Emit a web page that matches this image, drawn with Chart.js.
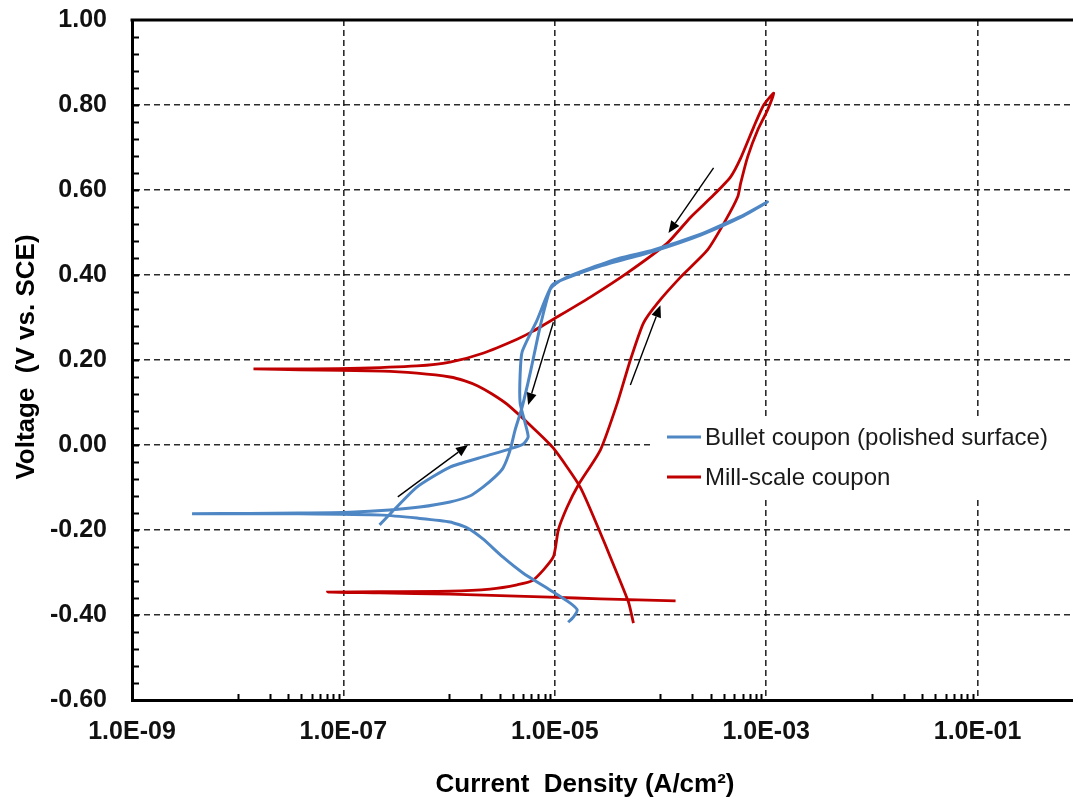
<!DOCTYPE html>
<html>
<head>
<meta charset="utf-8">
<script src="https://cdn.jsdelivr.net/npm/chart.js@4/dist/chart.umd.min.js"></script>
<style>
  html, body { margin: 0; padding: 0; background: #fff; overflow: hidden; }
  canvas { display: block; }
</style>
</head>
<body>
<canvas id="chart" width="1073" height="798"></canvas>
<script>
// Cyclic polarization scans: current density (A/cm²) against potential (V vs. SCE), in scan order.
const bulletJ = [1.34e-5, 1.50e-5, 1.63e-5, 1.40e-5, 9.0e-6, 5.0e-6, 3.24e-6, 2.09e-6, 1.48e-6, 1.02e-6,
  4.96e-7, 2.35e-7, 3.84e-8, 1.29e-8, 3.7e-9, 1.29e-8, 3.84e-8, 1.15e-7, 2.74e-7, 5.28e-7,
  1.02e-6, 1.57e-6, 2.09e-6, 2.72e-6, 3.24e-6, 3.78e-6, 4.21e-6, 4.91e-6, 5.85e-6, 7.26e-6,
  9.0e-6, 1.01e-5, 1.31e-5, 2.17e-5, 4.17e-5, 8.59e-5, 2.40e-4, 4.14e-4, 6.12e-4, 1.03e-3,
  6.1e-4, 2.4e-4, 8.6e-5, 2.7e-5, 1.31e-5, 9.44e-6, 6.8e-6, 4.91e-6, 4.7e-6, 4.7e-6,
  5.24e-6, 5.6e-6, 5.0e-6, 3.78e-6, 2.09e-6, 1.02e-6, 4.96e-7, 3.2e-7, 2.2e-7];
const bulletE = [-0.417, -0.405, -0.388, -0.372, -0.341, -0.301, -0.264, -0.221, -0.195, -0.181,
  -0.172, -0.165, -0.162, -0.162, -0.162, -0.161, -0.160, -0.158, -0.153, -0.146,
  -0.134, -0.120, -0.099, -0.075, -0.054, -0.012, 0.035, 0.089, 0.169, 0.278,
  0.365, 0.379, 0.395, 0.416, 0.440, 0.459, 0.496, 0.522, 0.541, 0.572,
  0.539, 0.494, 0.456, 0.421, 0.393, 0.376, 0.294, 0.219, 0.165, 0.099,
  0.052, 0.019, 0.002, -0.009, -0.028, -0.052, -0.099, -0.146, -0.188];

const millJ = [1.39e-4, 2.70e-5, 9.0e-6, 1.02e-6, 2.2e-7, 7.08e-8, 2.2e-7, 1.02e-6, 2.44e-6, 4.40e-6,
  6.24e-6, 9.66e-6, 1.08e-5, 1.31e-5, 1.67e-5, 2.70e-5, 3.91e-5, 5.19e-5, 6.90e-5, 9.38e-5,
  1.55e-4, 2.79e-4, 4.14e-4, 5.38e-4, 5.74e-4, 6.68e-4, 8.32e-4, 1.03e-3, 1.18e-3, 9.48e-4,
  7.62e-4, 5.74e-4, 4.61e-4, 3.18e-4, 1.93e-4, 1.16e-4, 4.86e-5, 2.17e-5, 1.05e-5, 6.24e-6,
  4.40e-6, 2.09e-6, 1.02e-6, 4.96e-7, 1.15e-7, 3.84e-8, 1.41e-8, 3.84e-8, 2.35e-7, 4.96e-7,
  1.02e-6, 1.41e-6, 1.87e-6, 2.55e-6, 3.53e-6, 6.24e-6, 9.66e-6, 1.74e-5, 2.70e-5, 3.36e-5,
  4.97e-5, 5.55e-5];
const millE = [-0.367, -0.362, -0.358, -0.351, -0.348, -0.346, -0.345, -0.344, -0.339, -0.329,
  -0.318, -0.264, -0.200, -0.146, -0.094, -0.012, 0.099, 0.200, 0.287, 0.334,
  0.395, 0.459, 0.529, 0.584, 0.616, 0.678, 0.741, 0.788, 0.828, 0.800,
  0.748, 0.675, 0.631, 0.588, 0.536, 0.475, 0.405, 0.348, 0.301, 0.268,
  0.249, 0.216, 0.195, 0.186, 0.180, 0.179, 0.179, 0.177, 0.174, 0.169,
  0.160, 0.151, 0.139, 0.120, 0.096, 0.040, -0.007, -0.099, -0.207, -0.264,
  -0.369, -0.419];

const seriesLabels = ['Bullet coupon (polished surface)', 'Mill-scale coupon'];
const seriesColors = ['#4f87c5', '#c00000'];

// Axis ticks
const xTicks = [1e-9, 1e-7, 1e-5, 1e-3, 1e-1];
const xTickLabels = ['1.0E-09', '1.0E-07', '1.0E-05', '1.0E-03', '1.0E-01'];
const yTicks = [-0.6, -0.4, -0.2, 0, 0.2, 0.4, 0.6, 0.8, 1.0];
const yTickLabels = ['-0.60', '-0.40', '-0.20', '0.00', '0.20', '0.40', '0.60', '0.80', '1.00'];

// Scan-direction arrows (tail -> head)
const arrowFromJ = [3.27e-7, 9.7e-6, 5.19e-5, 3.18e-4];
const arrowFromE = [-0.122, 0.289, 0.141, 0.652];
const arrowToJ = [1.51e-6, 5.6e-6, 1.0e-4, 1.19e-4];
const arrowToE = [0.0, 0.094, 0.329, 0.499];

const FONT = "'Liberation Sans', Arial, Helvetica, sans-serif";

// Minor tick marks: tenths of each two-decade major step, 0.04 V on the potential axis
const xMinor = [];
[1e-9, 1e-7, 1e-5, 1e-3, 1e-1].forEach(b => { for (let k = 1; k <= 9; k++) xMinor.push(b * 10 * k); });
const yMinor = [];
for (let i = 0; i <= 40; i++) yMinor.push(-0.6 + i * 0.04);

const toPoints = (xs, ys) => xs.map((v, i) => ({ x: v, y: ys[i] }));

const framePlugin = {
  id: 'frame',
  afterDatasetsDraw(chart) {
    const { ctx, scales: { x, y } } = chart;
    ctx.save();
    ctx.strokeStyle = '#000';
    ctx.fillStyle = '#000';
    ctx.lineWidth = 1.4;
    for (let i = 0; i < arrowFromJ.length; i++) {
      const x1 = x.getPixelForValue(arrowFromJ[i]), y1 = y.getPixelForValue(arrowFromE[i]);
      const x2 = x.getPixelForValue(arrowToJ[i]), y2 = y.getPixelForValue(arrowToE[i]);
      const ang = Math.atan2(y2 - y1, x2 - x1);
      const len = 12, half = 5;
      const bx = x2 - len * Math.cos(ang), by = y2 - len * Math.sin(ang);
      ctx.beginPath();
      ctx.moveTo(x1, y1);
      ctx.lineTo(bx, by);
      ctx.stroke();
      ctx.beginPath();
      ctx.moveTo(x2, y2);
      ctx.lineTo(bx + half * Math.sin(ang), by - half * Math.cos(ang));
      ctx.lineTo(bx - half * Math.sin(ang), by + half * Math.cos(ang));
      ctx.closePath();
      ctx.fill();
    }
    ctx.restore();
  },
  afterDraw(chart) {
    const { ctx, chartArea: a, scales: { x, y } } = chart;
    ctx.save();
    ctx.strokeStyle = '#000';
    // top frame line
    ctx.lineWidth = 3;
    ctx.beginPath();
    ctx.moveTo(a.left - 1.5, a.top);
    ctx.lineTo(a.right, a.top);
    ctx.stroke();
    // minor ticks, drawn inward
    ctx.lineWidth = 2;
    ctx.beginPath();
    xMinor.forEach(v => {
      const px = Math.round(x.getPixelForValue(v)) + 0.5;
      if (px > a.left + 2 && px < a.right) { ctx.moveTo(px, a.bottom); ctx.lineTo(px, a.bottom - 6); }
    });
    yMinor.forEach(v => {
      const py = Math.round(y.getPixelForValue(v)) + 0.5;
      if (py > a.top + 2 && py < a.bottom - 2) { ctx.moveTo(a.left, py); ctx.lineTo(a.left + 7, py); }
    });
    ctx.stroke();

    // legend box (opaque, sits over the grid)
    ctx.fillStyle = '#fff';
    ctx.fillRect(650, 418, a.right - 650, 78);
    ctx.lineWidth = 3;
    ctx.font = '24px ' + FONT;
    ctx.textBaseline = 'middle';
    ctx.textAlign = 'left';
    const lx = 667, ly = [437, 477];
    chart.data.datasets.forEach((ds, i) => {
      ctx.strokeStyle = ds.borderColor;
      ctx.beginPath();
      ctx.moveTo(lx, ly[i]);
      ctx.lineTo(lx + 34, ly[i]);
      ctx.stroke();
      ctx.fillStyle = '#1a1a1a';
      ctx.fillText(ds.label, lx + 38, ly[i] + 1);
    });

    // axis titles
    ctx.fillStyle = '#000';
    ctx.font = 'bold 26px ' + FONT;
    ctx.textAlign = 'center';
    ctx.textBaseline = 'alphabetic';
    ctx.fillText('Current  Density (A/cm\u00B2)', 585, 792);
    ctx.save();
    ctx.translate(34, 357);
    ctx.rotate(-Math.PI / 2);
    ctx.fillText('Voltage  (V vs. SCE)', 0, 0);
    ctx.restore();
    ctx.restore();
  }
};

const gridStyle = {
  color: 'rgba(20,20,20,0.9)',
  lineWidth: 1.6,
  drawTicks: false
};

new Chart(document.getElementById('chart'), {
  type: 'scatter',
  data: {
    datasets: [
      { label: seriesLabels[0], data: toPoints(bulletJ, bulletE), showLine: true,
        borderColor: seriesColors[0], backgroundColor: seriesColors[0], borderWidth: 3,
        pointRadius: 0, tension: 0.2 },
      { label: seriesLabels[1], data: toPoints(millJ, millE), showLine: true,
        borderColor: seriesColors[1], backgroundColor: seriesColors[1], borderWidth: 2.8,
        pointRadius: 0, tension: 0.2 }
    ]
  },
  options: {
    responsive: false,
    animation: false,
    devicePixelRatio: 1,
    layout: { padding: { top: 0, right: 0, bottom: 0, left: 0 } },
    plugins: { legend: { display: false }, tooltip: { enabled: false } },
    scales: {
      x: {
        type: 'logarithmic',
        min: 1e-9,
        max: 0.8,
        afterBuildTicks: s => { s.ticks = xTicks.map(v => ({ value: v })); },
        afterFit: s => { s.height = 98; s.paddingRight = 0; },
        ticks: {
          autoSkip: false, maxRotation: 0, padding: 17, color: '#111',
          font: { family: FONT, size: 25, weight: 'bold' },
          callback: v => xTickLabels[xTicks.indexOf(v)] ?? ''
        },
        grid: gridStyle,
        border: { color: '#000', width: 3, dash: [6, 4] }
      },
      y: {
        min: -0.6,
        max: 1.0,
        afterBuildTicks: s => { s.ticks = yTicks.map(v => ({ value: v })); },
        afterFit: s => { s.width = 132; s.paddingTop = 20; s.paddingBottom = 0; },
        ticks: {
          padding: 25, color: '#111',
          font: { family: FONT, size: 25, weight: 'bold' },
          callback: v => yTickLabels[yTicks.findIndex(t => Math.abs(t - v) < 1e-9)] ?? ''
        },
        grid: gridStyle,
        border: { color: '#000', width: 3, dash: [6, 4] }
      }
    }
  },
  plugins: [framePlugin]
});
</script>
</body>
</html>
